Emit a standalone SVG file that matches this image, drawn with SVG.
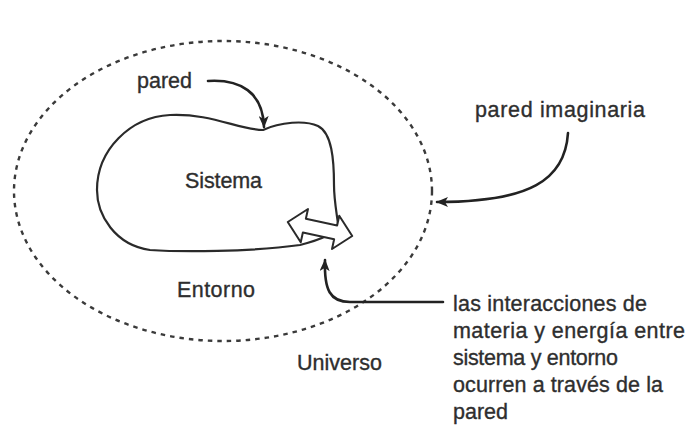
<svg xmlns="http://www.w3.org/2000/svg" width="700" height="426" viewBox="0 0 700 426">
<defs>
<style>
.t{font-family:"Liberation Sans",Arial,sans-serif;font-size:21.5px;fill:#2e2e2e;stroke:#2e2e2e;stroke-width:0.35}
.wall{fill:none;stroke:#2a2a2a;stroke-width:2.2;stroke-linejoin:round}
.dash{fill:none;stroke:#3a3a3a;stroke-width:2.4;stroke-dasharray:4.5 5}
.conn{fill:none;stroke:#222;stroke-width:2.6;stroke-linecap:round}
</style>
<marker id="ah" viewBox="0 0 12 10" refX="11" refY="5" markerWidth="12" markerHeight="10" markerUnits="userSpaceOnUse" orient="auto">
<path d="M0,0 L12,5 L0,10 L3,5 z" fill="#222"/>
</marker>
</defs>
<rect width="700" height="426" fill="#fff"/>
<g id="universo">
<ellipse class="dash" cx="223" cy="191" rx="209" ry="150"/>
<text class="t" x="297" y="370" textLength="85" lengthAdjust="spacing">Universo</text>
</g>
<g id="entorno">
<text class="t" x="177" y="297" textLength="78" lengthAdjust="spacing">Entorno</text>
</g>
<g id="sistema">
<path class="wall" d="M263 130 C280 122,305 120,318 126 C332 133,334 160,334 185 C334 200,337 215,338 224 C336 234,320 240,300 245 C250 252,180 252,150 250 C115 245,97 215,97 190 C97 150,130 117,170 115 C210 113,240 130,263 130 Z"/>
<text class="t" x="185" y="188" textLength="77" lengthAdjust="spacing">Sistema</text>
</g>
<g id="intercambio">
<polygon transform="translate(320 229) rotate(12.3)" points="-33,0 -16,-17 -16,-7 16,-7 16,-17 33,0 16,17 16,7 -16,7 -16,17" fill="#fff" stroke="#2a2a2a" stroke-width="2" stroke-linejoin="round"/>
</g>
<g id="label-pared">
<text class="t" x="137" y="88" textLength="55" lengthAdjust="spacing">pared</text>
</g>
<g id="label-pared-imaginaria">
<text class="t" x="475" y="117" textLength="170" lengthAdjust="spacing">pared imaginaria</text>
</g>
<g id="label-interacciones">
<text class="t" x="453" y="311" textLength="194" lengthAdjust="spacing">las interacciones de</text>
<text class="t" x="453" y="338" textLength="232" lengthAdjust="spacing">materia y energía entre</text>
<text class="t" x="453" y="365" textLength="165" lengthAdjust="spacing">sistema y entorno</text>
<text class="t" x="453" y="392" textLength="210" lengthAdjust="spacing">ocurren a través de la</text>
<text class="t" x="453" y="419">pared</text>
</g>
<g id="connectors">
<path class="conn" marker-end="url(#ah)" d="M208 81 C240 79,263 92,264 127"/>
<path class="conn" marker-end="url(#ah)" d="M568 133 C565 180,530 202,437 202"/>
<path class="conn" marker-end="url(#ah)" d="M443 302 L350 302 C330 302,324 290,325 260"/>
</g>
</svg>
